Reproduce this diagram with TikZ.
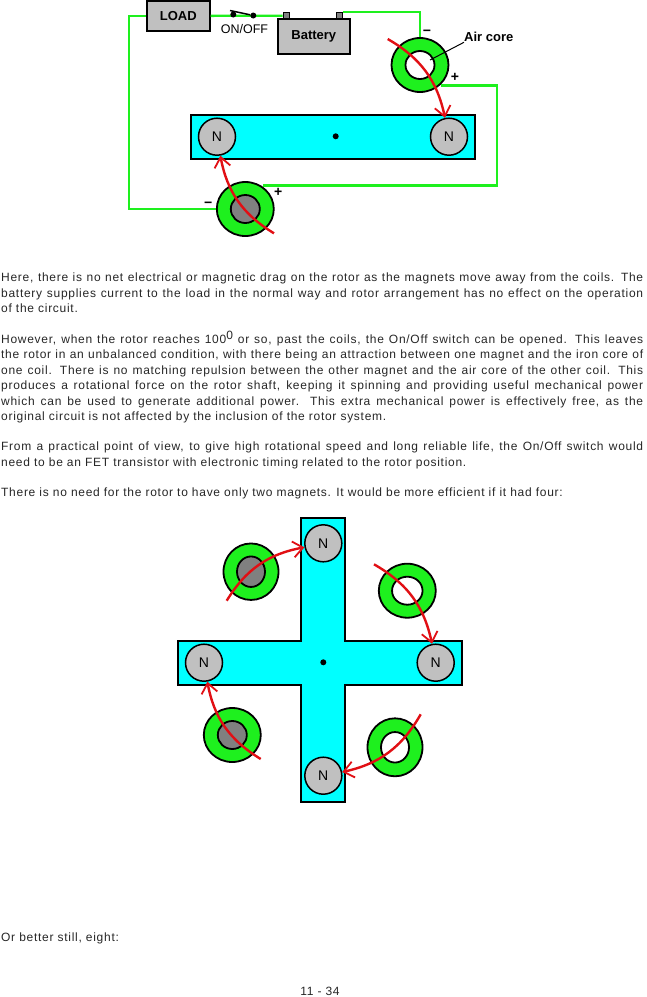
\documentclass[tikz,border=0pt]{standalone}
\usepackage{fontspec}
\setmainfont{Liberation Sans}
\newfontfamily\paraface[LetterSpace=6]{Liberation Sans}
\usetikzlibrary{arrows.meta,shapes.geometric}
\definecolor{rotorcyan}{RGB}{0,255,255}
\definecolor{coilgreen}{RGB}{30,240,30}
\definecolor{arcred}{RGB}{225,15,20}
\definecolor{partgray}{RGB}{192,192,192}
\definecolor{coregray}{RGB}{128,128,128}
\tikzset{
  coil/.style={ellipse, draw=black, line width=1.8pt, fill=coilgreen, inner sep=0pt, minimum width=57pt, minimum height=54pt},
  core/.style={ellipse, draw=black, line width=1.8pt, inner sep=0pt, minimum width=29pt, minimum height=28pt},
  magnet/.style={circle, draw=black, line width=1.5pt, fill=partgray, inner sep=0pt, minimum size=37pt, font=\fontsize{14}{14}\selectfont},
  part/.style={rectangle, draw=black, line width=1.8pt, fill=partgray, inner sep=0pt, font=\fontsize{13}{13}\selectfont\bfseries},
  pin/.style={circle, fill=black, inner sep=0pt, minimum size=6pt},
  wire/.style={coilgreen, line width=2.4pt},
  swing/.style={arcred, line width=2.4pt, -{Straight Barb[length=10pt,width=16pt,line width=1.8pt]}},
  para/.style={anchor=north west, inner sep=0pt, text width=642pt, align=justify, text=black!85, font=\paraface\fontsize{12}{15.4}\selectfont},
  sign/.style={inner sep=0pt, font=\fontsize{14}{14}\selectfont\bfseries}
}
\begin{document}
\begin{tikzpicture}[x=1pt,y=-1pt]
\useasboundingbox (0,0) rectangle (647,997);

\node[part, minimum width=63pt, minimum height=30pt] (load) at (178.3,15.8) {LOAD};
\node[part, minimum width=72pt, minimum height=35pt] (battery) at (313.8,36.3) {Battery};
\node[part, line width=1.2pt, fill=coregray, minimum width=6pt, minimum height=6pt] (termL) at (286.3,15.7) {};
\node[part, line width=1.2pt, fill=coregray, minimum width=6pt, minimum height=6pt] (termR) at (339.7,15.7) {};

\node[coil] (coilA) at (420,65) {};
\node[core, fill=white] (coreA) at (420,65) {};
\node[coil] (coilB) at (245.3,209) {};
\node[core, fill=coregray] (coreB) at (245.3,209) {};

\coordinate (wireL) at (129,15.8);
\coordinate (wireR) at (496.7,85.3);
\draw[wire] (load.west) -- (wireL) |- (coilB.west);
\draw[wire] (load.east) -- (termL.west);
\draw[wire] (termR.north east) -| (coilA.north);
\draw[wire] (coilA.south east |- wireR) -- (wireR) |- (263.3,185.3);

\node[pin] (swA) at (233.3,14.5) {};
\node[pin] (swB) at (253.3,15.5) {};
\coordinate (lever) at (230,10.5);
\draw[line width=1.5pt] (lever) -- (swB);
\node[inner sep=0pt, font=\fontsize{12.5}{12.5}\selectfont] (onoff) at (244.5,29) {ON/OFF};

\node[rectangle, draw=black, line width=1.8pt, fill=rotorcyan, inner sep=0pt, minimum width=284.6pt, minimum height=44pt] (rotorA) at (333,137) {};
\node[pin] (shaftA) at (335.7,136.3) {};
\node[magnet] (magL) at (217,136.7) {N};
\node[magnet] (magR) at (449,136.7) {N};

\coordinate (startA) at (387.7,39);
\coordinate (startB) at (274,233.3);
\draw[swing] (startA) to[bend left=24] (magR.102);
\draw[swing] (startB) to[bend left=24] (magL.-80);

\node[sign] (minusA) at (427,32.7) {\textminus};
\node[sign] (plusA) at (455,77.7) {+};
\node[sign] (plusB) at (278.3,192.3) {+};
\node[sign] (minusB) at (208.3,204.3) {\textminus};

\node[anchor=west, inner sep=0pt, font=\fontsize{13}{13}\selectfont\bfseries] (aircore) at (464,37.3) {Air core};
\coordinate (coreEnd) at (430,60);
\draw[line width=1pt] (aircore.south west) -- (coreEnd);

\node[para] (textA) at (1,273) {Here, there is no net electrical or magnetic drag on the rotor as the magnets move away from the coils.  The\linebreak
battery supplies current to the load in the normal way and rotor arrangement has no effect on the operation\linebreak
of the circuit.};
\node[para] (textB) at (1,331) {However, when the rotor reaches 100\raisebox{4pt}{0} or so, past the coils, the On/Off switch can be opened.  This leaves\linebreak
the rotor in an unbalanced condition, with there being an attraction between one magnet and the iron core of\linebreak
one coil.  There is no matching repulsion between the other magnet and the air core of the other coil.  This\linebreak
produces a rotational force on the rotor shaft, keeping it spinning and providing useful mechanical power\linebreak
which can be used to generate additional power.  This extra mechanical power is effectively free, as the\linebreak
original circuit is not affected by the inclusion of the rotor system.};
\node[para] (textC) at (1,442) {From a practical point of view, to give high rotational speed and long reliable life, the On/Off switch would\linebreak
need to be an FET transistor with electronic timing related to the rotor position.};
\node[para] (textD) at (1,488) {There is no need for the rotor to have only two magnets.  It would be more efficient if it had four:};

\draw[draw=black, line width=1.8pt, fill=rotorcyan] (300.7,517.7) -- (345,517.7) -- (345,640.7) -- (462.3,640.7) -- (462.3,685) -- (345,685) -- (345,802.3) -- (300.7,802.3) -- (300.7,685) -- (177.7,685) -- (177.7,640.7) -- (300.7,640.7) -- cycle;
\node[pin] (shaftB) at (323.3,662.3) {};
\node[magnet] (magN) at (323.3,543.3) {N};
\node[magnet] (magE) at (435.7,662.7) {N};
\node[magnet] (magS) at (323.3,775.7) {N};
\node[magnet] (magW) at (204,662.7) {N};

\node[coil, minimum width=55pt, minimum height=56.5pt] (coilNW) at (251,571.7) {};
\node[core, fill=coregray, minimum width=28pt, minimum height=30.5pt] (coreNW) at (251,571.7) {};
\node[coil] (coilNE) at (407.3,590.7) {};
\node[core, fill=white, minimum width=30.5pt] (coreNE) at (407.3,590.7) {};
\node[coil] (coilSW) at (232.3,735) {};
\node[core, fill=coregray] (coreSW) at (232.3,735) {};
\node[coil, minimum width=55pt, minimum height=58pt] (coilSE) at (395,747.3) {};
\node[core, fill=white, minimum width=28pt, minimum height=30.5pt] (coreSE) at (395,747.3) {};

\coordinate (startNW) at (226.7,600.7);
\coordinate (startNE) at (374,564.3);
\coordinate (startSW) at (260.7,759);
\coordinate (startSE) at (420.7,714.3);
\draw[swing] (startNW) to[bend left=24] (magN.192);
\draw[swing] (startNE) to[bend left=24] (magE.101);
\draw[swing] (startSW) to[bend left=24] (magW.-80);
\draw[swing] (startSE) to[bend left=24] (magS.11);

\node[para, text width=200pt] (textE) at (1,933) {Or better still, eight:};
\node[inner sep=0pt, text=black!85, font=\paraface\fontsize{12}{12}\selectfont] (pageno) at (320,991) {11 - 34};

\end{tikzpicture}
\end{document}
